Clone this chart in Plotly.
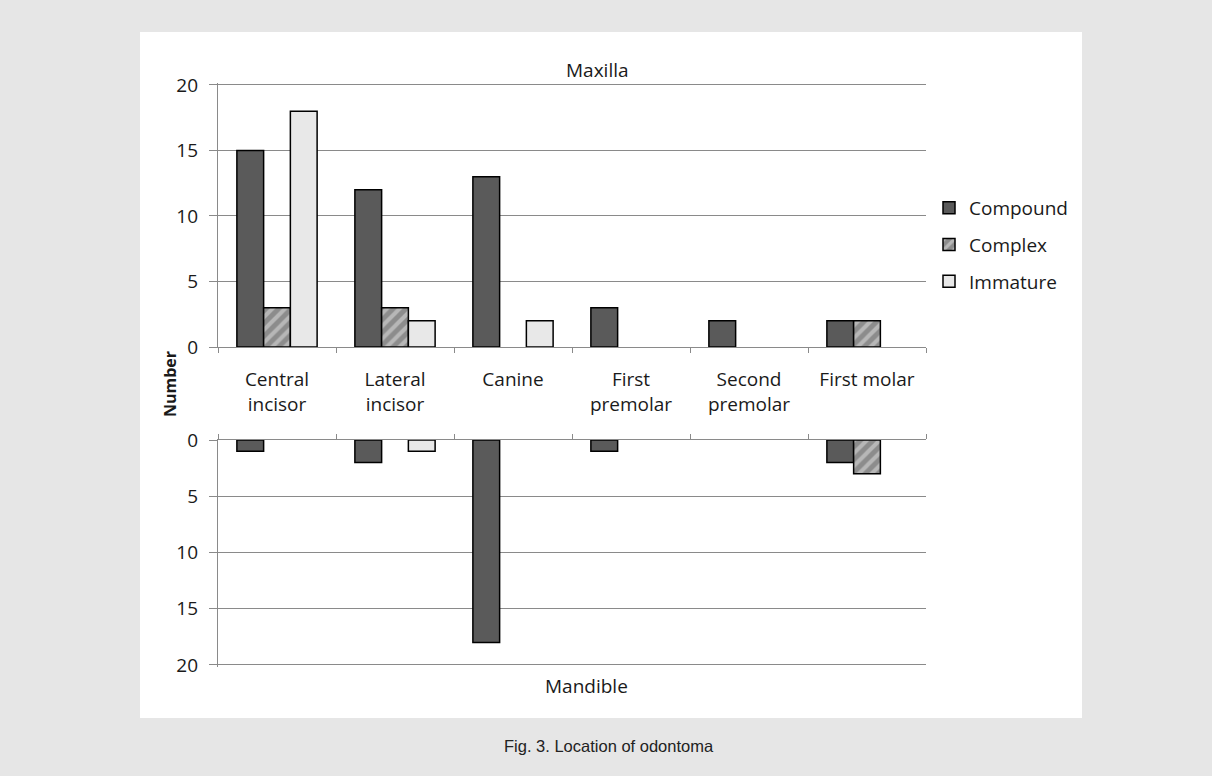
import plotly.graph_objects as go

categories = ["Central<br>incisor", "Lateral<br>incisor", "Canine", "First<br>premolar", "Second<br>premolar", "First molar"]
series_names = ["Compound", "Complex", "Immature"]
maxilla_compound = [15, 12, 13, 3, 2, 2]
maxilla_complex = [3, 3, 0, 0, 0, 2]
maxilla_immature = [18, 2, 2, 0, 0, 0]
mandible_compound = [1, 2, 18, 1, 0, 2]
mandible_complex = [0, 0, 0, 0, 0, 3]
mandible_immature = [0, 1, 0, 0, 0, 0]
y_ticks = [0, 5, 10, 15, 20]

W, H = 1212, 776
FONT = "Open Sans"
GRID = "#8a8a8a"
TXT = "#1a1a1a"

def px_x(x):
    return x / W

def px_y(y):
    return (H - y) / H

def nz(vals):
    return [v if v else None for v in vals]

styles = {
    "Compound": dict(color="#5a5a5a", line=dict(color="#000000", width=1.5)),
    "Complex": dict(color="#a0a0a0", line=dict(color="#000000", width=1.5),
                    pattern=dict(shape="/", fgcolor="#e2e2e2", bgcolor="#8c8c8c", size=9, solidity=0.45)),
    "Immature": dict(color="#e8e8e8", line=dict(color="#000000", width=1.5)),
}

fig = go.Figure()
top_vals = [maxilla_compound, maxilla_complex, maxilla_immature]
bot_vals = [mandible_compound, mandible_complex, mandible_immature]
for name, vals in zip(series_names, top_vals):
    fig.add_trace(go.Bar(x=categories, y=nz(vals), name=name, marker=styles[name],
                         xaxis="x", yaxis="y", legendgroup=name, showlegend=True))
for name, vals in zip(series_names, bot_vals):
    fig.add_trace(go.Bar(x=categories, y=nz(vals), name=name, marker=styles[name],
                         xaxis="x2", yaxis="y2", legendgroup=name, showlegend=False))

xdom = [px_x(218), px_x(926)]
axis_common = dict(showline=True, linecolor=GRID, linewidth=1.3, ticks="outside",
                   tickcolor=GRID, tickson="boundaries", ticklen=5, showgrid=False,
                   domain=xdom, fixedrange=True, automargin=False)
yaxis_common = dict(showline=True, linecolor=GRID, linewidth=1.3, ticks="outside",
                    tickcolor=GRID, ticklen=8, showgrid=True, gridcolor=GRID, gridwidth=1.3,
                    tickvals=y_ticks, zeroline=False, automargin=False, fixedrange=True,
                    ticklabelstandoff=7,
                    tickfont=dict(family=FONT, size=19, color=TXT))

fig.update_layout(
    width=W, height=H, autosize=False,
    margin=dict(l=0, r=0, t=0, b=0, pad=0),
    paper_bgcolor="#e6e6e6",
    plot_bgcolor="#ffffff",
    barmode="group", bargap=0.32, bargroupgap=0.0,
    font=dict(family=FONT, color=TXT),
    xaxis=dict(**axis_common, anchor="y",
               tickfont=dict(family=FONT, size=19, color=TXT),
               ticklabelstandoff=15),
    xaxis2=dict(**axis_common, anchor="y2", side="top", showticklabels=False),
    yaxis=dict(**yaxis_common, domain=[px_y(347), px_y(83)], range=[0, 20.15], anchor="x"),
    yaxis2=dict(**yaxis_common, domain=[px_y(667), px_y(440)], range=[20.18, 0], anchor="x2"),
    legend=dict(x=px_x(929), y=px_y(189), xanchor="left", yanchor="top",
                bgcolor="rgba(0,0,0,0)", tracegroupgap=9,
                font=dict(family=FONT, size=19, color=TXT)),
    shapes=[dict(type="rect", xref="paper", yref="paper", x0=px_x(140), x1=px_x(1082),
                 y0=px_y(718), y1=px_y(32), fillcolor="#ffffff", line=dict(width=0), layer="below")],
    annotations=[
        dict(text="Maxilla", x=px_x(597), y=px_y(70), xref="paper", yref="paper",
             xanchor="center", yanchor="middle",
             showarrow=False, font=dict(family=FONT, size=19, color=TXT)),
        dict(text="Mandible", x=px_x(586), y=px_y(686), xref="paper", yref="paper",
             xanchor="center", yanchor="middle",
             showarrow=False, font=dict(family=FONT, size=19, color=TXT)),
        dict(text="<b>Number</b>", x=px_x(170), y=px_y(384), xref="paper", yref="paper",
             xanchor="center", yanchor="middle",
             showarrow=False, textangle=-90, font=dict(family=FONT, size=16, color=TXT)),
        dict(text="Fig. 3. Location of odontoma", x=px_x(609), y=px_y(746), xref="paper", yref="paper",
             xanchor="center", yanchor="middle",
             showarrow=False, font=dict(family="Liberation Sans Narrow, Liberation Sans", size=16.5, color="#222222")),
    ],
)

fig.write_html("out.html", config={"displayModeBar": False},
               post_script="document.body.style.margin='0';document.body.style.background='#e6e6e6';")
